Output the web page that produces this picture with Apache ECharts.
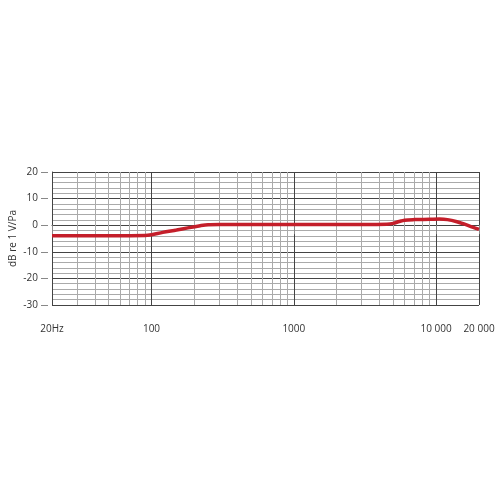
<!DOCTYPE html>
<html><head><meta charset="utf-8">
<script src="https://cdn.jsdelivr.net/npm/echarts@6/dist/echarts.min.js"></script>
<style>html,body{margin:0;padding:0;background:#fff}#c{width:500px;height:500px}</style>
</head><body><div id="c"></div>
<script>
const freqs = [20, 50, 90, 100, 120, 150, 180, 220, 250, 300, 1000, 3000, 4500, 5000, 5500, 6000, 7000, 9000, 10500, 12000, 14000, 16000, 18000, 20000];
const levels = [-4, -4, -3.9, -3.6, -2.7, -1.8, -1.0, -0.2, 0.2, 0.3, 0.3, 0.3, 0.4, 0.7, 1.4, 1.9, 2.1, 2.2, 2.3, 2.1, 1.3, 0.3, -0.7, -1.6];
const minorFreqs = [30, 40, 50, 60, 70, 80, 90, 200, 300, 400, 500, 600, 700, 800, 900, 2000, 3000, 4000, 5000, 6000, 7000, 8000, 9000];
const tickLabels = {20: '20Hz', 100: '100', 1000: '1000', 10000: '10 000', 20000: '20 000'};
const yName = 'dB re 1 V/Pa';

const font = 'Open Sans, Lato, sans-serif';
const chart = echarts.init(document.getElementById('c'), null, {renderer: 'canvas'});
const xBase = {type: 'log', logBase: 10, min: 20, max: 20000, gridIndex: 0};
chart.setOption({
  animation: false,
  grid: {left: 50, right: 21, top: 172, bottom: 195, containLabel: false},
  xAxis: [
    Object.assign({}, xBase, {
      axisLine: {show: true, lineStyle: {color: '#444', width: 1}},
      axisTick: {show: false}, axisLabel: {show: false},
      splitLine: {show: true, lineStyle: {color: '#444', width: 1}}
    }),
    Object.assign({}, xBase, {
      position: 'bottom', offset: 4,
      axisLine: {show: false},
      axisTick: {show: true, length: 9, lineStyle: {color: '#888'}},
      axisLabel: {show: true, margin: 15, color: '#333', fontSize: 10, fontFamily: font,
        formatter: v => tickLabels[Math.round(v)] || ''},
      splitLine: {show: false}
    })
  ],
  yAxis: [
    {type: 'value', min: -30, max: 20, interval: 10,
      axisLine: {show: true, lineStyle: {color: '#444'}},
      axisTick: {show: false}, axisLabel: {show: false},
      splitLine: {show: true, lineStyle: {color: '#444', width: 1}},
      minorTick: {show: false, splitNumber: 5},
      minorSplitLine: {show: true, lineStyle: {color: '#aaa', width: 1}},
      name: yName, nameLocation: 'middle', nameRotate: 90, nameGap: 34,
      nameTextStyle: {color: '#333', fontSize: 10, fontFamily: font}
    },
    {type: 'value', min: -30, max: 20, interval: 10, position: 'left', offset: 4,
      axisLine: {show: false},
      axisTick: {show: true, length: 7, lineStyle: {color: '#888'}},
      axisLabel: {show: true, margin: 10, color: '#333', fontSize: 10, fontFamily: font},
      splitLine: {show: false}
    }
  ],
  series: [{
    type: 'line', xAxisIndex: 0, yAxisIndex: 0,
    data: freqs.map((f, i) => [f, levels[i]]),
    smooth: 0.3, showSymbol: false,
    lineStyle: {color: '#c41e2a', width: 3.5},
    z: 10,
    markLine: {
      silent: true, symbol: ['none', 'none'], label: {show: false},
      lineStyle: {color: '#aaa', width: 1, type: 'solid'},
      data: minorFreqs.map(f => ({xAxis: f})),
      z: 1
    }
  }]
});
</script></body></html>
